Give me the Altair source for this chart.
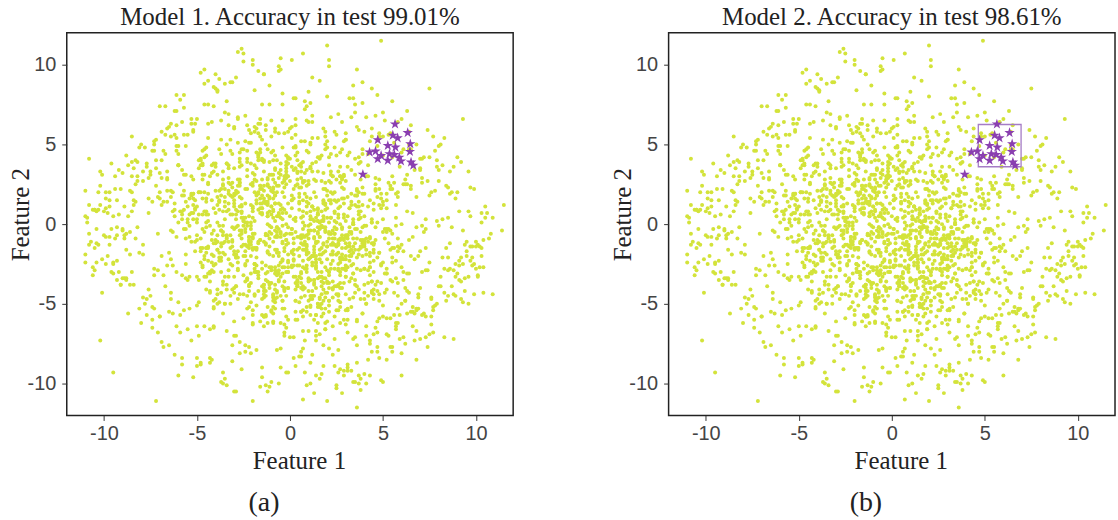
import altair as alt
import pandas as pd

# ---- background cloud, inner part (values in tenths of a unit) ----
cloud_x = [
-12,35,4,-48,21,-7,63,-29,15,0,-41,9,27,-18,52,-3,-66,13,38,-24,
7,-33,19,44,-9,-57,26,2,-15,71,-38,11,-2,30,-22,58,-46,17,-11,5,
-27,40,-5,14,-62,23,8,-36,49,-14,1,33,-51,20,-8,85,-19,6,-31,45,
16,-4,-43,29,10,-70,37,-16,55,-25,3,24,-53,12,-1,41,-34,68,-10,22,
-45,18,-20,6,31,-88,47,-6,13,-39,26,60,-13,-28,9,36,-59,2,74,-17,
28,-9,50,-32,15,-3,-49,21,39,-23,8,-67,11,46,-15,32,-40,4,-26,57,
-6,43,-21,19,-55,1,34,-12,65,-30,14,-44,25,-2,52,-37,10,-18,79,-58,
23,-14,7,-47,38,-24,16,89,-5,30,-73,12,-35,48,-9,20,-61,3,27,-19,
-38,11,42,-8,-29,17,61,-50,5,-16,33,-4,24,-42,70,-27,13,-64,36,-1,
9,-52,26,0,-20,45,-33,18,-11,54,-46,31,-7,15,-81,40,-23,6,-36,29,
-15,64,-28,8,37,-54,19,-3,47,-22,2,-69,34,-13,25,-41,11,58,-30,4,
31,-17,-60,22,10,-35,53,-8,14,-26,76,-44,1,39,-19,27,-5,-72,17,43,
-3,20,-39,35,-12,67,-25,5,-48,28,-10,16,44,-56,9,-32,62,-1,24,-45,
12,-7,30,-63,48,-18,3,-29,21,-94,36,-14,57,-4,15,-37,7,41,-21,26,
-50,33,-10,17,-27,6,71,-43,23,-2,40,-15,10,-58,29,-8,51,-34,13,-24,
4,-40,59,-20,14,-9,32,-52,19,45,-31,7,-77,26,-12,38,-5,18,-47,63,
-22,11,-66,42,-1,25,-36,8,55,-16,30,-3,20,-59,47,-26,2,34,-11,-83,
37,-28,15,-6,50,-41,22,-13,6,68,-23,3,-38,28,-51,12,-17,44,-30,9,
-9,52,-32,19,-70,27,1,-44,35,-14,16,-57,41,-5,23,-21,73,-39,10,-2,
18,-35,7,46,-24,-4,31,-62,13,-18,60,-8,26,-45,5,39,-28,14,-53,22,
-31,24,-12,69,-40,10,-20,36,-6,49,-33,16,-85,30,-9,2,54,-25,21,-48,
5,-16,40,-27,13,-60,25,-3,43,-37,9,28,-14,65,-22,0,-42,19,33,-7,
-44,14,-5,29,-19,58,-30,11,-68,38,-1,21,-26,7,47,-54,17,-10,35,92,
21,-11,51,-38,4,-23,35,-49,18,-6,27,-71,9,44,-17,13,-33,62,-2,30,
-26,39,-15,8,-52,20,-2,56,-29,15,-43,32,3,-19,75,-36,6,24,-64,12,
14,-46,27,-9,41,-31,17,-75,34,-4,10,-24,50,-13,22,-57,29,-1,45,-18,
-8,33,-54,23,2,-16,64,-41,12,28,-27,7,-48,37,-6,18,-35,55,-21,1,
43,-20,9,-34,26,-65,13,32,-10,48,-28,0,17,-50,36,-14,80,-7,25,-39,
-17,6,37,-45,19,-8,54,-22,3,-60,30,-11,42,-33,15,-3,27,-86,11,49,
25,-30,11,-58,40,-13,20,-4,66,-36,8,-21,31,-47,2,52,-18,16,-69,34,
-36,17,-2,44,-23,9,-50,28,-14,77,-42,22,-6,35,-31,13,-55,4,39,-12,
10,-61,33,-19,6,47,-27,15,-38,24,-9,59,-44,1,29,-16,41,-74,19,-4,
-53,27,-8,16,-35,53,3,-24,38,-45,12,-2,68,-29,20,-11,34,-52,7,26,
32,-12,61,-26,11,-43,24,-5,46,-17,1,-37,16,-63,43,-8,22,-30,57,-21,
-10,46,-34,5,28,-20,14,-79,35,-3,52,-25,9,31,-48,18,-13,40,-40,3,
19,-25,8,55,-47,30,-7,21,-15,39,-56,6,-30,25,-4,63,-33,12,-17,96,
-41,22,-13,36,0,-64,45,-19,27,-8,18,-49,37,-24,11,-2,50,-37,30,-11,
7,58,-29,12,-42,19,-10,34,-55,26,-16,43,-6,16,-34,73,-20,5,-46,23,
-20,3,30,-51,16,-5,40,-28,10,-74,33,-12,21,-39,56,-7,14,-27,48,-33,
27,-37,18,-14,62,-22,6,-46,29,-1,15,-32,51,-9,24,-61,38,-15,4,70,
-47,15,-23,48,-11,27,-39,2,57,-30,20,-6,-90,39,-18,8,-26,31,-3,16,
2,-21,44,-36,23,-52,10,35,-12,21,-43,64,-17,4,-28,46,-8,19,-57,30,
-14,49,-4,20,-32,11,-66,26,1,-39,42,-20,8,54,-35,15,-9,37,-23,6,
36,-8,25,-56,7,39,-18,13,-31,82,-13,28,-45,17,-2,32,-51,10,23,-27,
-29,12,-41,30,-15,4,53,-36,19,-7,35,-58,14,-22,45,-10,26,-42,60,-5,
]
cloud_y = [
-30,12,-8,41,-55,-2,25,-19,6,-71,33,-13,-40,18,-5,57,-26,9,-47,1,
-16,37,-34,3,-62,21,-10,48,-24,-1,15,-51,29,-7,-38,64,-20,8,-14,-83,
26,-43,4,-28,13,-9,52,-36,19,-58,-3,34,-17,10,-49,23,-6,-31,44,-12,
-22,7,-66,30,-4,16,-41,55,-15,2,-33,20,-11,68,-27,-1,38,-53,11,-19,
14,-37,24,-8,-60,43,-21,5,-45,31,-12,0,59,-29,17,-76,8,-16,27,-42,
-3,46,-24,18,-50,-7,35,-32,12,-14,72,-39,3,22,-57,10,-25,40,-9,-64,
32,-18,-1,50,-35,15,-46,7,-20,61,-11,26,-54,-6,19,-30,45,-15,2,-88,
-41,21,-13,6,39,-26,-69,16,-5,53,-32,11,-19,28,-48,4,-8,66,-37,20,
9,-52,30,-16,-2,43,-30,1,23,-61,14,-23,48,-10,-40,36,-4,17,-28,58,
-26,3,-44,27,11,-13,62,-56,8,-35,20,-7,-79,33,-18,5,41,-46,25,-10,
18,-31,8,-73,38,-1,22,-17,49,-42,-9,29,-25,13,56,-53,0,-14,35,-36,
-7,40,-49,15,-22,70,-12,-38,27,4,-63,19,-3,44,-28,11,-45,24,-15,52,
28,-11,17,-43,0,34,-59,13,-24,47,-6,-33,60,-19,7,-50,25,-2,-72,16,
-47,24,-29,8,55,-16,2,-39,37,-9,21,-58,12,-27,42,-4,-67,30,-13,6,
11,-20,45,-53,17,-34,26,-1,-46,31,-14,75,-22,3,-37,18,-9,50,-60,22,
-36,7,-15,32,-70,23,-5,58,-27,13,-41,1,36,-18,-52,28,-8,15,46,-31,
5,-45,29,-11,42,-3,-56,19,-21,66,-33,9,-14,25,-68,37,-26,3,-40,14,
-19,51,-6,-31,14,-48,33,-12,4,-85,22,-37,47,-2,10,-24,63,-43,19,-7,
40,-28,6,-62,20,0,-18,54,-35,16,-8,31,-50,12,-23,38,-3,-44,27,-65,
-12,17,-39,25,-5,48,-54,9,-16,35,-27,2,69,-41,14,-10,28,-57,7,44,
23,-58,13,-20,36,-34,4,-9,57,-25,19,-46,8,-15,31,-71,24,-1,-30,40,
-33,10,-47,39,-14,1,28,-63,15,-4,46,-21,-38,22,-11,60,-29,12,-52,5,
2,-24,34,-9,-44,20,-17,51,-32,8,-60,27,-6,39,-42,16,-19,-2,70,-36,
-51,31,-3,14,-26,62,-38,6,-13,24,-49,17,-30,1,43,-20,9,-75,30,-8,
16,-14,53,-40,7,-22,37,-57,21,-5,-31,10,48,-45,18,-12,33,-28,-4,64,
-27,42,-10,4,-64,26,-2,31,-18,-48,13,-36,55,-7,20,-54,6,41,-23,-15,
35,-6,-33,19,-12,47,-43,10,-20,29,-81,15,-9,38,-26,3,-50,22,57,-17,
-9,26,-52,8,33,-18,-4,45,-37,12,-24,5,27,-64,18,-11,49,-30,1,-41,
20,-40,11,-15,58,-29,22,-8,-55,37,2,-19,44,-33,9,-70,30,-5,16,-26,
-44,15,-21,64,-1,-35,18,-48,7,28,-13,51,-27,-3,34,-59,13,-16,40,0,
8,-30,39,-12,-53,24,-7,16,-42,55,-19,4,-36,31,-10,20,-66,45,-2,12,
-18,49,-26,2,29,-61,11,-34,21,-6,-46,36,-15,61,-28,7,-9,-52,26,-39,
30,-9,13,-47,22,-3,43,-25,-14,6,33,-58,17,-21,52,-37,1,28,-78,10,
-2,-36,25,-14,50,-30,8,-62,29,-11,18,-43,41,-5,-24,13,67,-33,4,-20,
-55,21,-7,37,-19,10,-40,27,-3,-68,15,47,-28,5,-15,32,-45,19,-12,56,
13,-44,32,-6,-27,57,-16,1,-39,23,-9,38,-61,14,-31,8,29,-20,44,-50,
-30,4,-57,18,41,-22,9,-15,30,-47,2,-35,20,-76,35,-10,12,53,-26,-5,
27,-17,6,-42,15,-2,65,-31,11,-54,24,-8,-20,42,-38,3,-63,17,31,-13,
-8,35,-28,9,-51,31,-13,20,-1,46,-34,14,-48,1,26,-18,39,-4,-59,21,
45,-23,14,-64,28,-10,-37,8,52,-19,6,25,-43,16,-6,71,-29,10,-16,34,
-15,10,-35,22,-9,36,-50,3,-23,60,-14,-3,32,-56,19,-28,7,43,-41,1,
22,-49,1,33,-17,12,-67,41,-7,15,-30,50,-12,-38,24,-2,18,-53,9,-22,
-38,16,-12,48,-25,5,21,-45,36,-16,11,-62,27,-4,-33,54,-20,6,30,-9,
11,-27,43,-3,-58,19,-30,28,-11,3,62,-40,8,-24,35,-47,15,-6,-36,24,
-21,38,-4,-54,13,-39,26,-18,47,-8,18,-32,4,59,-44,11,-25,37,-13,-90,
]

# ---- background cloud, dense core (values in tenths of a unit) ----
core_x = [
12,-25,4,33,-8,-40,19,-3,27,-15,6,-31,45,-11,22,0,-19,9,-50,15,
-6,28,-22,10,-36,3,41,-13,17,-28,7,-2,24,-45,13,-9,35,-17,1,-26,
20,-4,-33,14,-12,38,-21,5,-47,26,-7,11,-38,30,-1,18,-24,52,-10,8,
-18,44,-5,25,-29,2,-14,34,-41,16,-23,9,29,-3,-35,21,-11,40,-20,6,
31,-9,15,-44,3,-16,23,-27,11,48,-6,-19,36,-32,4,-13,19,-2,27,-39,
-1,16,-30,7,39,-12,-25,13,-4,26,-48,21,-15,2,33,-8,-37,10,-21,43,
24,-35,8,-17,20,-2,46,-29,14,-9,30,-42,5,-23,17,-5,37,-14,-51,11,
-13,3,28,-38,10,-26,18,-7,55,-16,1,23,-34,12,-20,32,-4,-46,25,-10,
7,-21,39,-1,-30,15,-12,43,-24,4,-37,19,-8,29,-43,9,22,-18,2,-28,
35,-14,-3,21,-49,6,32,-20,11,-33,25,-6,14,-40,3,47,-15,28,-11,-24,
-27,10,22,-12,-5,37,-19,1,-36,18,-9,30,-45,7,-16,26,-2,-31,13,41,
5,-44,17,-23,31,-10,9,-39,24,-1,-28,50,-14,20,-7,-34,12,-18,36,-3,
-20,29,-8,44,-15,23,-32,6,-11,38,-4,13,-53,27,-22,1,-41,16,-6,21,
40,-2,-26,11,-13,-47,28,-17,3,19,-30,-7,34,-19,9,-36,25,-12,48,-4,
-10,18,-41,2,27,-22,14,-5,-32,42,-15,8,-24,32,-1,21,-44,6,-29,15,
26,-31,5,-18,52,-8,-23,36,-14,9,-38,17,-3,24,-46,13,-9,30,-16,-56,
-35,12,-2,29,-20,4,-43,21,-10,33,-6,-25,15,-1,39,-30,7,-17,23,-12,
14,-50,32,-7,18,-28,1,-15,45,-21,11,-35,26,-9,-2,20,-39,34,-13,3,
-4,23,-16,-42,8,31,-11,17,-27,2,-19,40,-33,12,-7,28,-48,10,-22,37,
19,-6,43,-24,-14,7,-37,26,-3,-29,16,-12,54,-18,24,-10,5,-43,31,-1,
]
core_y = [
-20,4,-35,12,-8,-47,9,-15,-30,22,-12,-2,-41,17,-25,-6,31,-18,-10,-52,
7,-28,-13,25,-38,-5,-19,14,-44,-1,-23,33,-9,-33,2,-56,-16,19,-27,-4,
-36,10,-11,-24,28,-15,-3,-49,16,-29,-7,36,-21,-12,-40,5,-17,-31,21,-8,
15,-42,-6,-19,3,-33,40,-14,-26,-2,-45,11,-22,23,-11,-37,-1,-28,8,-55,
-9,20,-30,-14,-48,13,-4,26,-35,-18,6,-25,-39,-7,32,-13,-46,0,-21,12,
-24,-3,18,-41,-12,29,-32,-8,-53,4,-17,-30,10,-22,-5,43,-14,-36,1,-27,
2,-50,-16,9,-29,-10,-38,19,-20,-44,27,-6,-15,-34,-1,-24,14,-58,-11,35,
-31,24,-7,-23,-42,11,-18,-2,-36,16,-26,-12,38,-45,-9,-20,3,-33,-14,21,
8,-37,-11,30,-19,-50,5,-27,-13,-39,22,-4,-31,13,-43,-16,-6,27,-23,-47,
-12,14,-40,-5,20,-30,-17,-57,8,-22,-3,-35,17,-10,-48,1,-28,-15,39,-20,
-44,-9,26,-18,-33,3,-25,15,-7,-41,9,-20,-2,-54,24,-13,-30,6,-37,-16,
19,-23,-50,1,-14,-29,34,-11,-39,13,-21,-5,-46,21,-32,-8,11,-26,-3,-42,
-15,31,-4,-36,7,-19,-45,23,-27,-10,-1,-38,18,-24,-52,10,-12,-33,29,-6,
-28,-13,12,-47,-6,37,-22,-34,4,-17,-43,20,-9,-30,14,-1,-39,25,-18,-11,
6,-34,-20,16,-52,-8,-26,9,-15,-37,28,-45,-3,-23,-12,42,-31,-7,-19,-2,
-38,17,-8,-30,10,-41,-1,-21,33,-14,-49,2,-27,15,-5,-35,22,-44,-10,-25,
11,-26,-45,4,-16,28,-36,-9,-54,19,-29,-13,7,-40,-20,13,-3,-32,30,-17,
-22,3,-14,-43,22,-28,-6,40,-18,-31,-4,14,-48,-11,25,-37,-16,0,-26,-60,
26,-40,-10,-24,-1,-53,16,-33,-7,-19,37,-12,-29,3,-46,-9,20,-35,-15,8,
-5,-18,-32,13,-44,5,-21,-13,30,-39,-8,24,-16,-51,-2,-27,9,-42,17,-30,
]

# ---- background cloud, outer part (values in tenths of a unit) ----
outer_x = [
62,-85,14,-37,95,-58,23,-104,47,-12,78,-66,5,39,-91,28,-49,70,-20,101,
-73,31,-8,56,-44,88,-27,9,-97,42,-61,17,83,-33,66,-5,-79,48,-15,24,
35,-52,99,-19,71,-88,3,57,-40,26,-68,92,-24,11,-106,45,-55,77,-2,-36,
-94,20,64,-46,8,-75,38,81,-11,-59,29,-87,53,-30,74,-7,16,-65,102,-42,
49,-16,-83,34,-101,60,-25,13,90,-50,6,-71,41,-96,22,68,-34,-9,85,-57,
-28,75,-63,1,47,-99,32,-14,59,-82,18,96,-45,27,-70,52,-3,-89,37,-21,
84,-39,10,-76,65,-54,-105,43,-18,30,-92,72,-6,55,-47,19,-67,93,-31,4,
-60,25,-97,51,-13,80,-43,15,-72,107,-26,36,-84,61,-1,-52,44,-110,21,67,
12,-69,46,-23,87,-35,-80,58,-4,33,-64,98,-48,7,73,-29,-95,40,-17,54,
-103,69,-32,2,-57,91,-10,-74,26,63,-41,15,-86,50,-22,79,-100,31,-8,45,
58,-14,81,-62,24,-45,100,-30,-9,66,-77,37,-53,89,-19,6,-68,50,-38,11,
-87,43,-5,-56,76,-21,32,-93,17,54,-34,-108,71,-12,41,-73,85,-27,-47,20,
38,-99,61,-8,-41,94,-66,22,-15,78,-52,3,45,-83,29,-38,104,-60,13,-25,
-46,17,-78,86,-31,9,-62,55,-95,36,-2,70,-49,23,-89,64,-18,42,-71,97,
73,-58,27,-11,-102,48,-36,82,-7,16,-81,57,-24,95,-65,1,39,-44,-90,30,
-19,52,-85,34,68,-50,-4,103,-72,21,-33,60,-98,14,-56,87,-29,46,-13,-76,
93,-26,4,-64,40,-91,19,-47,75,-16,109,-39,52,-82,8,-58,28,-101,65,-3,
-55,88,-42,71,-6,25,-110,47,-30,99,-61,12,-20,56,-88,34,-74,18,80,-37,
26,-47,72,-96,15,-23,58,-69,39,-1,-84,66,-44,103,-16,46,-62,90,-9,-28,
-81,6,-35,98,-55,77,-14,33,-106,50,-41,20,85,-70,31,-92,12,-51,62,-4,
44,-93,23,-10,59,-76,95,-38,7,-64,81,-25,-8,37,-100,68,-20,52,-46,11,
-67,35,-105,74,-18,48,-57,2,91,-33,20,-79,63,-12,42,-89,27,-53,105,-24,
17,-60,85,-41,-95,13,-27,66,-3,96,-50,31,-73,57,-15,-108,76,-34,9,-86,
-40,101,-16,24,-77,55,-93,40,-22,70,-5,-63,18,-98,84,-45,3,61,-31,49,
80,-22,-69,45,-11,-88,29,-52,105,-36,14,92,-58,21,-7,50,-94,36,-17,-61,
-12,64,-46,-102,33,-28,79,-15,54,-83,26,-40,97,-65,10,-23,71,-99,44,-54,
55,-78,39,-6,-57,100,-44,19,-90,6,67,-30,-85,49,-37,83,-13,28,-104,72,
-97,14,-24,60,-70,36,-1,-48,87,-20,-110,43,-62,9,76,-32,58,-79,22,-43,
31,-36,94,-53,21,-82,47,-9,-66,38,-17,102,-41,74,-99,15,-56,35,-26,88,
-74,48,-13,82,-34,-107,56,-60,11,-29,93,-75,28,-3,65,-48,100,-18,-91,40,
67,-8,-90,29,-49,73,-20,98,-58,41,-71,3,55,-37,-96,22,-11,86,-64,18,
-32,89,-61,7,104,-39,16,-84,51,-25,63,-102,32,-50,79,-14,-76,44,-5,-93,
8,-103,50,-27,-68,91,-45,23,-17,70,-88,37,-9,106,-53,60,-31,12,-80,57,
-59,22,76,-89,37,-2,-63,45,-109,18,-35,84,-48,26,-73,99,-21,68,-42,3,
97,-44,-14,53,-85,30,-101,10,62,-66,40,-4,-93,73,-19,34,-57,89,-28,-69,
-23,57,-79,18,94,-52,6,-95,42,-12,78,-38,25,-70,50,-108,17,-46,75,-7,
41,-72,33,-104,9,65,-29,80,-43,-87,24,-15,101,-61,36,-1,-97,58,-34,86,
-86,13,58,-40,-21,83,-67,29,-99,47,-6,69,-54,14,-84,92,-33,5,-59,27,
69,-31,-97,38,-61,19,91,-11,55,-73,4,-45,77,-26,108,-82,43,-19,63,-50,
-49,96,-4,-77,27,-41,61,-92,16,86,-56,34,-105,52,-10,-64,21,97,-37,7,
]
outer_y = [
-40,30,-95,18,-20,34,-12,8,-77,5,-51,60,-26,47,-38,23,-70,41,-6,-33,
52,-88,26,-15,63,-29,41,-101,11,-45,46,-2,-43,35,-64,104,-19,57,-96,7,
-71,19,-25,84,-30,-6,62,-62,38,-79,14,-47,68,-100,9,-16,56,-54,43,-93,
30,-61,47,-22,77,-45,4,-39,75,-68,22,5,56,-3,-77,40,-52,61,-27,64,
-98,45,-9,-72,31,-50,107,-18,20,-84,36,-29,-70,-3,-13,50,-67,8,-45,81,
66,-24,-56,54,-80,10,-36,94,-57,27,-89,8,1,-62,32,-41,17,-34,59,-11,
-15,83,-48,-41,24,-8,9,-75,45,-33,6,-56,13,-77,38,-66,74,-4,-86,33,
44,-103,20,65,-42,27,-87,-11,53,-9,8,-60,-38,-35,-93,16,55,-19,103,-22,
-82,12,-65,39,-2,-97,50,-53,82,-19,63,-14,-88,26,-71,92,-31,-10,42,-59,
9,-46,89,-84,56,-23,31,-60,15,71,-64,2,-38,70,-77,36,-7,-92,60,-30,
-62,94,-33,5,-89,43,-14,-70,28,-52,38,-100,19,-25,61,-83,46,-58,-1,76,
37,-20,-78,31,-47,12,79,-35,-94,57,-9,-6,41,-105,67,-28,4,-74,31,-43,
-104,20,-17,-53,86,-34,33,-6,-90,21,59,-41,-12,40,-60,14,-27,49,-35,2,
75,-39,48,-12,-14,65,-82,42,-25,-61,7,35,-49,30,-9,58,-21,37,-68,5,
-29,6,-91,23,12,-44,-100,37,-8,90,-53,-34,52,-17,-76,103,-56,25,-3,-63,
58,-85,20,-31,-67,66,-22,-15,35,-48,13,-81,7,-12,49,-39,-105,68,-58,16,
-49,110,-60,21,-11,-38,55,-26,42,-102,4,-7,-69,39,-93,8,64,-43,47,-36,
3,-44,32,-57,96,-19,-24,17,-40,22,-30,92,-111,51,-16,79,-65,-2,34,-99,
-93,28,-5,38,-62,46,-37,-74,89,-23,15,-55,75,-20,22,-10,56,-31,-45,67,
48,-55,88,-21,1,-68,24,-16,-27,43,-65,80,-29,-58,36,-30,11,63,-48,20,
-36,15,-82,55,-72,29,-11,91,-7,-43,50,-20,34,-95,8,-54,100,-31,47,-57,
56,-99,9,-29,60,-48,-3,79,-26,26,-111,33,-42,18,-85,-7,-22,63,4,-80,
-58,37,-21,74,-24,-106,45,-8,-53,33,-33,-90,46,-1,41,-13,20,-101,74,-19,
21,-32,63,-13,-47,30,-23,58,-39,-72,97,-26,13,-20,24,-18,-89,47,-76,10,
-39,51,-20,-69,87,-35,16,-96,11,-5,-57,39,-84,99,-42,3,22,61,-30,-64,
47,-10,-64,33,-92,108,-50,6,-77,25,-28,94,-14,-55,64,-23,29,-8,85,-53,
-24,-50,76,-100,18,-28,90,-43,-4,52,-73,11,39,-37,-12,54,-101,28,-12,42,
15,-67,4,45,-58,22,-30,-87,20,-54,5,-73,71,-19,-46,46,-9,-46,13,-84,
-68,24,-13,66,-40,-2,81,-61,28,-97,57,-14,-52,59,-25,2,-34,75,-91,36,
14,-84,50,-21,77,-11,-43,37,-87,9,-25,33,-106,27,-55,95,-11,-79,22,-38,
-56,58,-34,-95,40,-15,103,-26,18,-50,-6,79,-80,44,-30,31,-102,19,-47,-48,
53,-45,62,-8,-10,84,-97,12,-31,102,-56,24,-12,-89,40,-40,7,-80,38,-2,
-11,20,-99,28,-77,-35,48,-64,96,-17,-34,42,-52,7,-73,66,-26,54,-62,19,
78,-28,-58,11,-16,-93,20,-47,1,-76,3,-48,37,-39,50,-44,25,-2,-85,49,
-23,6,39,-70,-30,53,-22,83,-48,14,-94,65,-7,-58,28,-99,73,-33,-17,58,
34,-66,-13,60,-42,19,-80,5,-29,-62,46,-18,-101,74,-51,12,-36,88,-69,-5,
-100,40,67,-24,-55,62,-70,-1,30,-56,58,-47,-13,81,-87,38,-13,17,-41,33,
21,-9,-45,85,-81,-28,44,-92,16,-36,99,-53,6,-73,35,-21,69,-20,-57,26,
-44,89,-8,-5,54,-66,8,-38,77,-53,25,-15,-52,47,-6,30,-95,-25,31,-51,
20,-33,75,-57,-32,38,-71,34,-19,-28,14,87,-15,-3,-99,55,-78,23,65,-27,
]

# isolated points near the edges of the cloud (tenths of a unit)
edge_x = [-108,-110,-109,-104,-103,-106,-105,-102,49,7,36,-46,-72,7,36,93,115,114,104,109,103,103,83,88,90,-95,-60,-85,60,75,-30,20]
edge_y = [41,21,4,-3,-13,-32,-29,-73,115,107,97,97,-111,-110,-115,66,12,-4,-43,-44,7,1,-71,-72,42,-93,-95,55,-95,85,-105,112]

# minority class (stars)
star_x = [5.65,6.33,5.53,5.79,4.72,6.47,5.26,5.67,4.28,4.60,6.45,4.90,5.35,5.61,5.88,5.26,5.97,6.51,6.63,3.92,4.72]
star_y = [6.27,5.73,5.57,5.40,5.28,5.03,4.92,4.82,4.51,4.57,4.55,4.30,4.40,4.36,4.19,3.99,3.95,3.88,3.68,3.12,4.09]

# decision box of model 2
box_x = [4.65, 6.95]
box_y = [3.6, 6.25]

titles = ["Model 1. Accuracy in test 99.01%", "Model 2. Accuracy in test 98.61%"]
captions = ["(a)", "(b)"]
tick_values = [-10, -5, 0, 5, 10]

n1 = min(len(cloud_x), len(cloud_y))
n2 = min(len(outer_x), len(outer_y))
n3 = min(len(core_x), len(core_y))
all_x = cloud_x[:n1] + core_x[:n3] + outer_x[:n2] + edge_x
all_y = cloud_y[:n1] + core_y[:n3] + outer_y[:n2] + edge_y
pts = pd.DataFrame({"x": [v / 10 for v in all_x], "y": [v / 10 for v in all_y]})
stars = pd.DataFrame({"x": star_x, "y": star_y})
box = pd.DataFrame({"x1": [box_x[0]], "x2": [box_x[1]], "y1": [box_y[0]], "y2": [box_y[1]]})

W, H = 448, 384
YELLOW = "#d3e33a"
PURPLE = "#8a3fb0"
BOXC = "#a57cc6"
SERIF = "Liberation Serif"
SANS = "Liberation Sans"
STAR = ("M0,-1L0.2245,-0.309L0.951,-0.309L0.363,0.118L0.588,0.809L0,0.382"
        "L-0.588,0.809L-0.363,0.118L-0.951,-0.309L-0.2245,-0.309Z")

xscale = alt.Scale(domain=[-12, 12], nice=False, zero=False)
yscale = alt.Scale(domain=[-12, 12], nice=False, zero=False)
LABEL_EXPR = "datum.value + ''"


def panel(i, with_box):
    xax = alt.Axis(values=tick_values, labelExpr=LABEL_EXPR, labelPadding=3,
                   title="Feature 1", titleX=233, titleY=45,
                   titleAlign="center", titleBaseline="middle")
    yax = alt.Axis(values=tick_values, labelExpr=LABEL_EXPR, labelPadding=6,
                   title="Feature 2", titleX=-46, titleY=182,
                   titleAngle=270, titleAlign="center", titleBaseline="middle")
    base = alt.Chart(pts).mark_circle(size=16, opacity=1, color=YELLOW).encode(
        x=alt.X("x:Q", scale=xscale, axis=xax),
        y=alt.Y("y:Q", scale=yscale, axis=yax),
    )
    st = alt.Chart(stars).mark_point(shape=STAR, filled=True, size=120, opacity=1,
                                     color=PURPLE).encode(x="x:Q", y="y:Q")
    cap = alt.Chart(pd.DataFrame({"t": [captions[i]]})).mark_text(
        font=SERIF, fontSize=28, color="#222", baseline="middle", align="center"
    ).encode(text="t:N", x=alt.value(198), y=alt.value(H + 88))
    layers = [base]
    if with_box:
        layers.append(
            alt.Chart(box).mark_rect(fillOpacity=0, fill="white", stroke=BOXC,
                                     strokeWidth=1.3).encode(
                x="x1:Q", x2="x2:Q", y="y1:Q", y2="y2:Q")
        )
    layers += [st, cap]
    return alt.layer(*layers).properties(
        width=W, height=H,
        title=alt.TitleParams(titles[i], font=SERIF, fontSize=25, fontWeight="normal",
                              color="#222", offset=3, anchor="middle"),
    )


chart = alt.hconcat(panel(0, False), panel(1, True), spacing=96).properties(
    padding={"left": 8, "top": 3, "right": 2, "bottom": 0}
).configure_view(
    stroke="#222", strokeWidth=1.5
).configure_axis(
    grid=False, domain=False, tickColor="#333", tickSize=5, tickWidth=1,
    labelFont=SANS, labelFontSize=20, labelColor="#444",
    titleFont=SERIF, titleFontSize=25, titleFontWeight="normal", titleColor="#222",
)

chart.save("out.html", embed_options={"renderer": "svg", "actions": False})
